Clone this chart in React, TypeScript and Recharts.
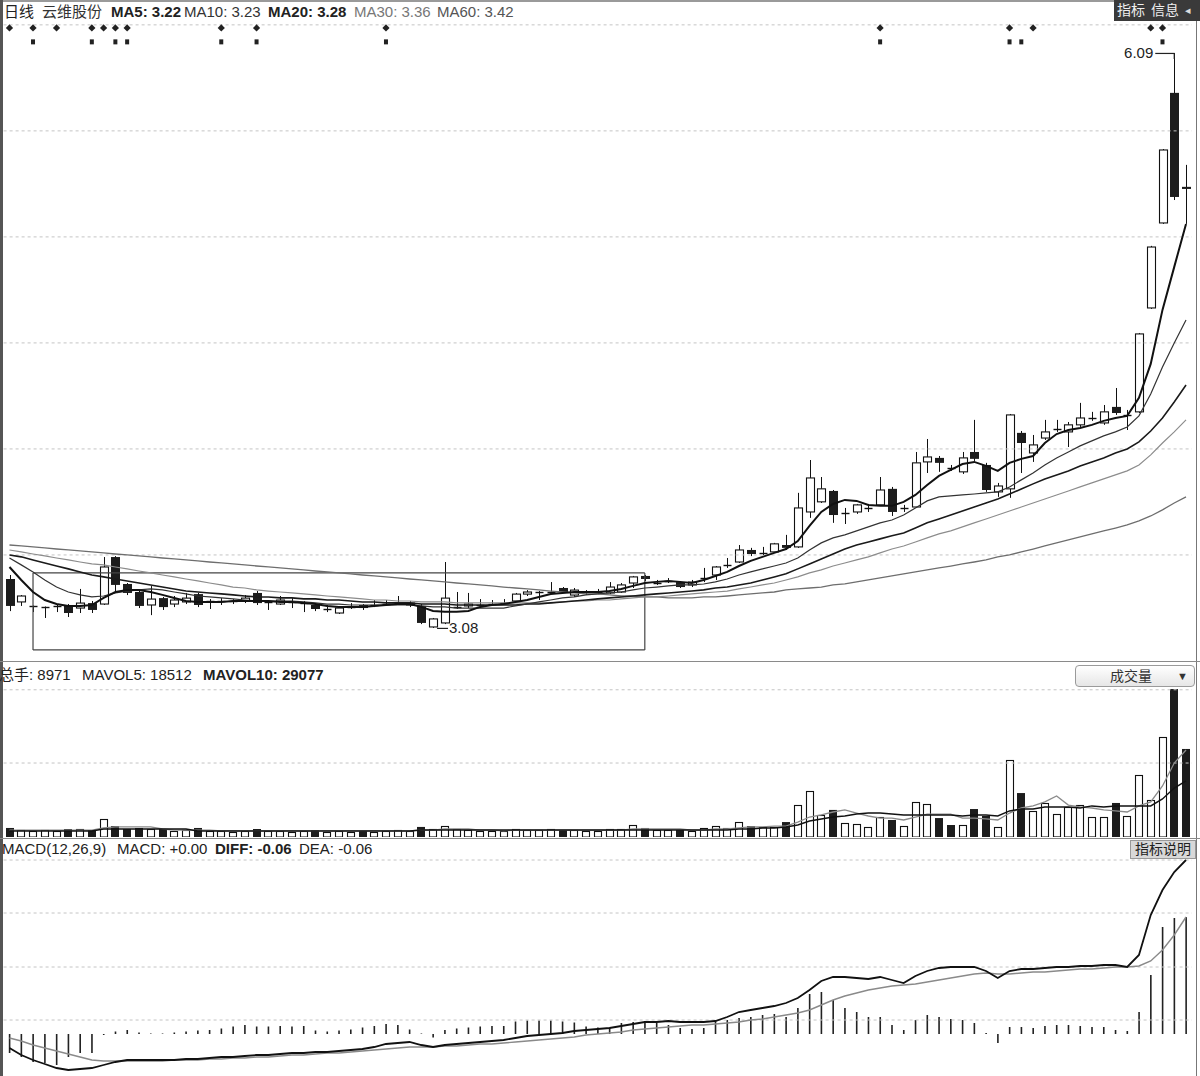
import React from 'react';
import { ComposedChart, Bar, Line, XAxis, YAxis, ReferenceLine, ReferenceDot } from 'recharts';

// daily candles (price units)
const openP = [
  3.336, 3.216, 3.192, 3.187, 3.193, 3.195, 3.184, 3.210, 3.205, 3.451,
  3.310, 3.268, 3.200, 3.236, 3.205, 3.216, 3.257, 3.216, 3.216, 3.219,
  3.221, 3.263, 3.213, 3.205, 3.214, 3.208, 3.200, 3.179, 3.158, 3.189,
  3.200, 3.195, 3.205, 3.210, 3.200, 3.195, 3.085, 3.106, 3.189, 3.195,
  3.200, 3.205, 3.210, 3.221, 3.257, 3.266, 3.268, 3.289, 3.252, 3.263,
  3.268, 3.263, 3.268, 3.315, 3.352, 3.315, 3.325, 3.320, 3.305, 3.338,
  3.357, 3.407, 3.425, 3.488, 3.471, 3.478, 3.514, 3.504, 3.687, 3.740,
  3.797, 3.680, 3.687, 3.706, 3.724, 3.808, 3.706, 3.713, 3.949, 3.970,
  3.918, 3.897, 4.001, 3.933, 3.792, 3.808, 4.101, 3.996, 4.074, 4.120,
  4.106, 4.143, 4.177, 4.153, 4.237, 4.190, 4.211, 4.755, 5.200, 5.881,
  5.389,
];
const closeP = [
  3.195, 3.247, 3.195, 3.189, 3.195, 3.158, 3.210, 3.174, 3.399, 3.305,
  3.263, 3.195, 3.231, 3.189, 3.226, 3.236, 3.200, 3.221, 3.221, 3.221,
  3.236, 3.210, 3.216, 3.226, 3.216, 3.210, 3.179, 3.184, 3.184, 3.195,
  3.184, 3.200, 3.210, 3.216, 3.210, 3.106, 3.127, 3.236, 3.195, 3.205,
  3.205, 3.210, 3.216, 3.257, 3.268, 3.268, 3.273, 3.268, 3.278, 3.268,
  3.273, 3.294, 3.305, 3.347, 3.336, 3.320, 3.331, 3.294, 3.320, 3.341,
  3.399, 3.409, 3.488, 3.467, 3.473, 3.520, 3.499, 3.708, 3.865, 3.808,
  3.671, 3.682, 3.724, 3.708, 3.802, 3.687, 3.708, 3.944, 3.975, 3.944,
  3.916, 3.970, 3.965, 3.802, 3.823, 4.195, 4.048, 4.038, 4.106, 4.122,
  4.143, 4.179, 4.179, 4.211, 4.205, 4.197, 4.619, 5.074, 5.582, 5.336,
  5.378,
];
const highP = [
  3.357, 3.252, 3.197, 3.192, 3.200, 3.205, 3.284, 3.221, 3.451, 3.456,
  3.315, 3.278, 3.299, 3.242, 3.247, 3.263, 3.263, 3.231, 3.236, 3.231,
  3.252, 3.273, 3.226, 3.247, 3.236, 3.221, 3.210, 3.200, 3.189, 3.210,
  3.205, 3.226, 3.226, 3.247, 3.221, 3.205, 3.132, 3.425, 3.268, 3.263,
  3.231, 3.226, 3.231, 3.263, 3.278, 3.273, 3.320, 3.294, 3.289, 3.278,
  3.284, 3.320, 3.315, 3.352, 3.357, 3.331, 3.341, 3.325, 3.331, 3.394,
  3.404, 3.446, 3.514, 3.499, 3.504, 3.525, 3.567, 3.787, 3.959, 3.870,
  3.802, 3.708, 3.729, 3.729, 3.870, 3.818, 3.724, 4.001, 4.069, 3.980,
  3.933, 4.001, 4.169, 3.944, 3.839, 4.200, 4.111, 4.090, 4.169, 4.169,
  4.158, 4.258, 4.211, 4.247, 4.336, 4.221, 4.624, 5.080, 5.587, 6.090,
  5.504,
];
const lowP = [
  3.168, 3.195, 3.163, 3.132, 3.163, 3.137, 3.158, 3.158, 3.200, 3.263,
  3.252, 3.184, 3.147, 3.174, 3.189, 3.205, 3.189, 3.179, 3.200, 3.205,
  3.210, 3.200, 3.174, 3.200, 3.184, 3.163, 3.168, 3.163, 3.153, 3.179,
  3.174, 3.189, 3.195, 3.200, 3.189, 3.100, 3.080, 3.100, 3.179, 3.184,
  3.189, 3.195, 3.205, 3.216, 3.247, 3.226, 3.257, 3.263, 3.242, 3.252,
  3.257, 3.257, 3.263, 3.289, 3.325, 3.305, 3.315, 3.289, 3.294, 3.320,
  3.331, 3.394, 3.420, 3.456, 3.462, 3.473, 3.488, 3.499, 3.656, 3.734,
  3.630, 3.624, 3.677, 3.687, 3.719, 3.666, 3.687, 3.708, 3.891, 3.897,
  3.902, 3.886, 3.954, 3.792, 3.766, 3.761, 3.891, 3.949, 4.064, 4.106,
  4.027, 4.132, 4.164, 4.143, 4.195, 4.116, 4.205, 4.750, 5.195, 5.320,
  5.195,
];

const ma5 = [
  3.399, 3.331, 3.268, 3.226, 3.205, 3.195, 3.195, 3.200, 3.237, 3.268,
  3.279, 3.279, 3.268, 3.253, 3.237, 3.221, 3.216, 3.216, 3.216, 3.221,
  3.221, 3.221, 3.221, 3.216, 3.216, 3.211, 3.205, 3.195, 3.190, 3.190,
  3.190, 3.195, 3.200, 3.205, 3.205, 3.190, 3.169, 3.164, 3.164, 3.169,
  3.190, 3.200, 3.205, 3.216, 3.226, 3.242, 3.258, 3.263, 3.268, 3.268,
  3.268, 3.273, 3.284, 3.300, 3.315, 3.321, 3.326, 3.321, 3.315, 3.331,
  3.352, 3.373, 3.404, 3.431, 3.452, 3.473, 3.493, 3.535, 3.614, 3.687,
  3.729, 3.750, 3.745, 3.724, 3.719, 3.719, 3.740, 3.776, 3.828, 3.876,
  3.907, 3.938, 3.949, 3.928, 3.902, 3.944, 3.965, 3.980, 4.048, 4.095,
  4.116, 4.127, 4.143, 4.164, 4.179, 4.190, 4.284, 4.462, 4.745, 4.970,
  5.195,
];
const ma10 = [
  3.446, 3.410, 3.373, 3.331, 3.294, 3.268, 3.253, 3.242, 3.247, 3.263,
  3.273, 3.279, 3.284, 3.279, 3.268, 3.258, 3.247, 3.242, 3.237, 3.232,
  3.226, 3.221, 3.221, 3.221, 3.221, 3.216, 3.211, 3.205, 3.205, 3.200,
  3.200, 3.200, 3.200, 3.200, 3.200, 3.195, 3.190, 3.190, 3.184, 3.184,
  3.184, 3.184, 3.184, 3.195, 3.205, 3.216, 3.226, 3.237, 3.242, 3.253,
  3.258, 3.263, 3.268, 3.279, 3.289, 3.294, 3.300, 3.305, 3.305, 3.310,
  3.321, 3.336, 3.357, 3.373, 3.389, 3.404, 3.420, 3.446, 3.488, 3.525,
  3.551, 3.567, 3.588, 3.609, 3.630, 3.645, 3.671, 3.708, 3.745, 3.766,
  3.771, 3.776, 3.781, 3.787, 3.792, 3.818, 3.855, 3.891, 3.933, 3.970,
  4.001, 4.033, 4.059, 4.085, 4.106, 4.132, 4.190, 4.305, 4.446, 4.572,
  4.692,
];
const ma20 = [
  3.462, 3.452, 3.436, 3.420, 3.404, 3.389, 3.373, 3.357, 3.347, 3.336,
  3.326, 3.315, 3.305, 3.294, 3.284, 3.273, 3.268, 3.263, 3.258, 3.253,
  3.247, 3.242, 3.242, 3.237, 3.237, 3.232, 3.232, 3.226, 3.226, 3.221,
  3.216, 3.216, 3.211, 3.211, 3.211, 3.205, 3.205, 3.205, 3.200, 3.200,
  3.200, 3.200, 3.200, 3.200, 3.205, 3.205, 3.211, 3.216, 3.221, 3.226,
  3.232, 3.237, 3.242, 3.247, 3.253, 3.258, 3.263, 3.268, 3.273, 3.279,
  3.289, 3.294, 3.305, 3.315, 3.331, 3.347, 3.363, 3.389, 3.415, 3.441,
  3.467, 3.493, 3.514, 3.530, 3.546, 3.562, 3.577, 3.603, 3.630, 3.650,
  3.671, 3.692, 3.713, 3.734, 3.755, 3.781, 3.807, 3.834, 3.860, 3.881,
  3.902, 3.928, 3.949, 3.970, 3.996, 4.017, 4.054, 4.111, 4.179, 4.263,
  4.352,
];
const ma30 = [
  3.488, 3.478, 3.467, 3.457, 3.446, 3.436, 3.425, 3.415, 3.410, 3.399,
  3.389, 3.378, 3.368, 3.357, 3.347, 3.336, 3.326, 3.315, 3.305, 3.294,
  3.289, 3.279, 3.273, 3.268, 3.263, 3.258, 3.253, 3.247, 3.242, 3.237,
  3.232, 3.226, 3.226, 3.221, 3.221, 3.216, 3.216, 3.216, 3.211, 3.211,
  3.211, 3.211, 3.211, 3.211, 3.211, 3.211, 3.211, 3.216, 3.221, 3.221,
  3.226, 3.226, 3.232, 3.237, 3.242, 3.242, 3.247, 3.253, 3.258, 3.263,
  3.268, 3.273, 3.284, 3.294, 3.305, 3.315, 3.331, 3.347, 3.368, 3.384,
  3.404, 3.420, 3.436, 3.452, 3.473, 3.493, 3.509, 3.530, 3.551, 3.572,
  3.588, 3.609, 3.630, 3.650, 3.671, 3.692, 3.713, 3.734, 3.755, 3.776,
  3.797, 3.818, 3.839, 3.860, 3.881, 3.902, 3.933, 3.986, 4.048, 4.106,
  4.169,
];
const ma60 = [
  3.514, 3.509, 3.504, 3.499, 3.493, 3.488, 3.483, 3.478, 3.473, 3.467,
  3.462, 3.457, 3.452, 3.446, 3.441, 3.436, 3.431, 3.425, 3.420, 3.415,
  3.410, 3.404, 3.399, 3.394, 3.389, 3.384, 3.378, 3.373, 3.368, 3.363,
  3.357, 3.352, 3.347, 3.342, 3.336, 3.331, 3.326, 3.321, 3.315, 3.310,
  3.305, 3.300, 3.294, 3.289, 3.284, 3.279, 3.273, 3.268, 3.263, 3.258,
  3.258, 3.253, 3.247, 3.247, 3.242, 3.242, 3.237, 3.237, 3.237, 3.242,
  3.242, 3.247, 3.253, 3.258, 3.263, 3.268, 3.279, 3.284, 3.289, 3.294,
  3.305, 3.310, 3.321, 3.331, 3.342, 3.352, 3.363, 3.373, 3.384, 3.394,
  3.404, 3.415, 3.425, 3.436, 3.452, 3.462, 3.478, 3.493, 3.509, 3.525,
  3.541, 3.556, 3.572, 3.588, 3.603, 3.619, 3.640, 3.666, 3.698, 3.734,
  3.766,
];

// volume (lots) and its averages
const volume = [
  6100, 4700, 4100, 4700, 4100, 5400, 5400, 4700, 12200, 7400,
  5400, 6100, 5400, 5400, 4100, 4700, 6100, 4100, 4100, 3400,
  4100, 5400, 4100, 4100, 3400, 4100, 4700, 3400, 4100, 3400,
  4100, 3400, 4100, 4700, 4100, 6800, 5400, 7400, 5400, 4700,
  4100, 4100, 4100, 5400, 4700, 4700, 5400, 4700, 4700, 4100,
  4100, 5400, 5400, 8100, 6100, 4700, 4700, 4700, 4100, 6100,
  7400, 6100, 10100, 7400, 6800, 6800, 10100, 21600, 31100, 14900,
  18300, 9500, 8800, 6800, 13500, 11500, 7400, 23700, 22300, 12800,
  8100, 8100, 18900, 14200, 6800, 52100, 29700, 17600, 23000, 15500,
  20300, 21600, 13500, 13500, 23000, 14200, 41900, 25000, 67600, 100000,
  59500,
];
const mavol5 = [
  4700, 4700, 4700, 4700, 4700, 4700, 4700, 4700, 6100, 6800,
  6800, 6800, 6800, 5400, 4700, 4700, 4700, 4700, 4100, 4100,
  4100, 4100, 4100, 4100, 4100, 4100, 4100, 4100, 4100, 4100,
  4100, 4100, 4100, 4100, 4100, 4700, 4700, 5400, 5400, 5400,
  4700, 4700, 4100, 4700, 4700, 4700, 4700, 4700, 4700, 4700,
  4700, 4700, 4700, 5400, 5400, 5400, 5400, 5400, 4700, 4700,
  5400, 5400, 6100, 6800, 6800, 7400, 7400, 10100, 13500, 14900,
  16900, 18300, 16200, 14200, 12800, 12800, 11500, 13500, 15500, 15500,
  15500, 12800, 12800, 12200, 11500, 16200, 19600, 21000, 23700, 27700,
  21600, 20300, 19600, 18300, 17600, 16900, 21000, 23700, 34500, 50000,
  58800,
];
const mavol10 = [
  4100, 4100, 4100, 4100, 4100, 4100, 4100, 4100, 5400, 5400,
  5400, 5400, 5400, 5400, 5400, 5400, 4100, 4100, 4100, 4100,
  4100, 4100, 4100, 4100, 4100, 4100, 4100, 4100, 4100, 4100,
  4100, 4100, 4100, 4100, 4100, 4700, 4700, 4700, 4700, 4700,
  4700, 4700, 4700, 4700, 4700, 4700, 4700, 4700, 4700, 4700,
  4700, 4700, 4700, 4700, 4700, 4700, 4700, 4700, 4700, 4700,
  4700, 4700, 5400, 5400, 6100, 6100, 6800, 8100, 10800, 12200,
  13500, 14200, 15500, 16200, 16200, 15500, 14900, 14900, 14900, 14900,
  14900, 14200, 14900, 14900, 14200, 17600, 18900, 18900, 20300, 20300,
  20300, 19600, 21000, 20300, 21000, 21000, 21000, 21000, 25700, 33100,
  37900,
];

// MACD(12,26,9)
const diff = [
  -0.028, -0.042, -0.052, -0.060, -0.068, -0.072, -0.070, -0.068, -0.062, -0.056,
  -0.052, -0.052, -0.052, -0.052, -0.052, -0.050, -0.050, -0.048, -0.046, -0.046,
  -0.044, -0.042, -0.042, -0.040, -0.038, -0.038, -0.036, -0.036, -0.034, -0.032,
  -0.030, -0.026, -0.020, -0.018, -0.016, -0.022, -0.026, -0.022, -0.020, -0.018,
  -0.016, -0.014, -0.012, -0.008, -0.004, -0.002, 0.000, 0.002, 0.006, 0.008,
  0.010, 0.012, 0.016, 0.020, 0.024, 0.024, 0.026, 0.024, 0.024, 0.024,
  0.026, 0.034, 0.044, 0.048, 0.052, 0.056, 0.062, 0.072, 0.088, 0.106,
  0.114, 0.114, 0.112, 0.110, 0.114, 0.108, 0.102, 0.116, 0.126, 0.132,
  0.134, 0.134, 0.134, 0.126, 0.112, 0.126, 0.130, 0.130, 0.132, 0.134,
  0.134, 0.136, 0.136, 0.138, 0.138, 0.134, 0.158, 0.238, 0.288, 0.324,
  0.348,
];
const dea = [
  -0.008, -0.014, -0.022, -0.028, -0.034, -0.040, -0.046, -0.052, -0.054, -0.054,
  -0.054, -0.054, -0.054, -0.054, -0.052, -0.052, -0.052, -0.050, -0.050, -0.048,
  -0.048, -0.046, -0.046, -0.044, -0.042, -0.042, -0.040, -0.038, -0.038, -0.036,
  -0.034, -0.032, -0.030, -0.028, -0.026, -0.026, -0.026, -0.024, -0.024, -0.022,
  -0.020, -0.020, -0.018, -0.016, -0.014, -0.012, -0.010, -0.008, -0.006, -0.002,
  0.000, 0.002, 0.004, 0.008, 0.010, 0.012, 0.014, 0.016, 0.018, 0.018,
  0.020, 0.022, 0.024, 0.028, 0.030, 0.034, 0.038, 0.042, 0.048, 0.058,
  0.068, 0.076, 0.082, 0.088, 0.092, 0.096, 0.098, 0.100, 0.104, 0.108,
  0.112, 0.116, 0.120, 0.122, 0.120, 0.120, 0.122, 0.124, 0.124, 0.126,
  0.128, 0.130, 0.130, 0.132, 0.134, 0.134, 0.136, 0.146, 0.168, 0.198,
  0.234,
];
const macdHist = [
  -0.038, -0.046, -0.056, -0.058, -0.062, -0.046, -0.038, -0.038, -0.002, 0.005,
  0.008, 0.003, 0.001, 0.001, 0.003, 0.005, 0.007, 0.008, 0.011, 0.015,
  0.018, 0.015, 0.015, 0.016, 0.015, 0.016, 0.007, 0.005, 0.007, 0.009,
  0.013, 0.016, 0.020, 0.018, 0.009, 0.001, -0.007, 0.008, 0.011, 0.013,
  0.015, 0.016, 0.016, 0.025, 0.027, 0.027, 0.027, 0.025, 0.023, 0.015,
  0.013, 0.012, 0.022, 0.024, 0.026, 0.022, 0.018, 0.012, 0.010, 0.012,
  0.028, 0.028, 0.032, 0.034, 0.038, 0.040, 0.034, 0.052, 0.080, 0.084,
  0.068, 0.052, 0.044, 0.034, 0.034, 0.018, 0.008, 0.028, 0.038, 0.034,
  0.030, 0.028, 0.022, 0.002, -0.018, 0.014, 0.014, 0.012, 0.016, 0.018,
  0.018, 0.016, 0.014, 0.014, 0.008, 0.006, 0.044, 0.118, 0.214, 0.232,
  0.234,
];

// signal marks along the top edge (candle indices)
const diamondIdx = [0, 2, 4, 7, 8, 9, 10, 18, 21, 32, 74, 85, 87, 97, 98];
const squareIdx = [2, 7, 9, 10, 18, 21, 32, 74, 85, 86, 98];
const diamondLevel = 6.221;
const squareLevel = 6.148;

const priceGrid = [6.237, 5.682, 5.127, 4.572, 4.017, 3.462];
const volGrid = [50000, 99500];
const macdGrid = [0.348, 0.242, 0.134, 0.028];
const box = { from: 2, to: 54, top: 3.368, bottom: 2.965 };

const FONT = '"Liberation Sans", Arial, "Noto Sans CJK SC", sans-serif';
const MARGIN_L = 3.6;
const MARGIN_R = 8.1;

const priceRows = closeP.map((c, i) => ({
  idx: i,
  open: openP[i],
  high: highP[i],
  low: lowP[i],
  close: c,
  ma5: ma5[i],
  ma10: ma10[i],
  ma20: ma20[i],
  ma30: ma30[i],
  ma60: ma60[i],
  sigTop: diamondIdx.includes(i) ? diamondLevel : null,
  sigBot: squareIdx.includes(i) ? squareLevel : null,
}));

const volRows = volume.map((v, i) => ({
  idx: i,
  vol: v,
  mavol5: mavol5[i],
  mavol10: mavol10[i],
  up: closeP[i] >= openP[i],
}));

const macdRows = diff.map((d, i) => ({ idx: i, diff: d, dea: dea[i], macd: macdHist[i] }));

const hiVal = Math.max(...highP);
const hiIdx = highP.indexOf(hiVal);
const loVal = Math.min(...lowP);
const loIdx = lowP.indexOf(loVal);

function CandleShape(props: any) {
  const { x, y, width, height, payload } = props;
  if (!payload || !Number.isFinite(y) || !Number.isFinite(height)) return <g />;
  const top = Math.min(y, y + height);
  const bottom = Math.max(y, y + height);
  const span = payload.high - payload.low;
  const k = span > 0 ? (bottom - top) / span : 0;
  const toY = (v: number) => top + (payload.high - v) * k;
  const cx = Math.round(x + width / 2) + 0.5;
  const up = payload.close >= payload.open;
  const bTop = toY(Math.max(payload.open, payload.close));
  const bBot = toY(Math.min(payload.open, payload.close));
  const bh = bBot - bTop;
  const half = 4;
  if (bh < 1.6) {
    const yy = Math.round((bTop + bBot) / 2) + 0.5;
    return (
      <g>
        <line x1={cx} x2={cx} y1={top} y2={bottom} stroke="#111" strokeWidth={1} />
        <line x1={cx - half} x2={cx + half} y1={yy} y2={yy} stroke="#111" strokeWidth={1.4} />
      </g>
    );
  }
  if (up) {
    return (
      <g>
        <line x1={cx} x2={cx} y1={top} y2={bTop} stroke="#111" strokeWidth={1} />
        <line x1={cx} x2={cx} y1={bBot} y2={bottom} stroke="#111" strokeWidth={1} />
        <rect x={cx - half} y={bTop} width={half * 2} height={bh} fill="#fff" stroke="#111" strokeWidth={1.1} />
      </g>
    );
  }
  return (
    <g>
      <line x1={cx} x2={cx} y1={top} y2={bottom} stroke="#111" strokeWidth={1} />
      <rect x={cx - half - 0.5} y={bTop} width={half * 2 + 1} height={bh} fill="#1c1c1c" />
    </g>
  );
}

function VolShape(props: any) {
  const { x, y, width, height, payload } = props;
  if (!payload || !Number.isFinite(y) || !Number.isFinite(height)) return <g />;
  const top = Math.min(y, y + height);
  const h = Math.abs(height);
  const left = Math.round(x) + 0.5;
  if (payload.up) {
    return <rect x={left} y={Math.round(top) + 0.5} width={width - 1} height={Math.max(0, h - 0.5)} fill="#fff" stroke="#111" strokeWidth={1.1} />;
  }
  return <rect x={left - 0.5} y={top} width={width} height={h} fill="#1c1c1c" />;
}

function MacdShape(props: any) {
  const { x, y, width, height } = props;
  if (!Number.isFinite(y) || !Number.isFinite(height)) return <g />;
  const top = Math.min(y, y + height);
  const h = Math.abs(height);
  const cx = x + width / 2;
  return <rect x={cx - 0.8} y={top} width={1.6} height={h} fill="#222" />;
}

const diamondDot = (p: any) => {
  const key = `dm-${p.index}`;
  if (!p.payload || p.payload.sigTop == null || p.cy == null) return <g key={key} />;
  const { cx, cy } = p;
  return <path key={key} d={`M${cx},${cy - 3.6}L${cx + 3.6},${cy}L${cx},${cy + 3.6}L${cx - 3.6},${cy}Z`} fill="#222" />;
};

const squareDot = (p: any) => {
  const key = `sq-${p.index}`;
  if (!p.payload || p.payload.sigBot == null || p.cy == null) return <g key={key} />;
  const { cx, cy } = p;
  return <rect key={key} x={cx - 2} y={cy - 2.5} width={4} height={5} fill="#222" />;
};

const HighMark = (p: any) => (
  <g>
    <line x1={p.cx - 19} x2={p.cx} y1={p.cy + 0.5} y2={p.cy + 0.5} stroke="#222" strokeWidth={1.2} />
    <line x1={p.cx} x2={p.cx} y1={p.cy} y2={p.cy + 6} stroke="#222" strokeWidth={1.2} />
    <text x={p.cx - 21} y={p.cy} dy="0.36em" textAnchor="end" fontSize={15} fontFamily={FONT} fill="#222">
      {hiVal.toFixed(2)}
    </text>
  </g>
);

const LowMark = (p: any) => (
  <g>
    <line x1={p.cx + 4} x2={p.cx + 15} y1={p.cy + 0.5} y2={p.cy + 0.5} stroke="#222" strokeWidth={1.2} />
    <text x={p.cx + 16} y={p.cy} dy="0.36em" textAnchor="start" fontSize={15} fontFamily={FONT} fill="#222">
      {loVal.toFixed(2)}
    </text>
  </g>
);

const gridLine = (v: number) => (
  <ReferenceLine key={`g-${v}`} y={v} stroke="#c4c4c4" strokeDasharray="3 3" strokeWidth={1} />
);

function Txt({ left, top, children, bold, color, size }: any) {
  return (
    <span
      style={{
        position: 'absolute',
        left,
        top,
        fontSize: size || 15,
        fontWeight: bold ? 700 : 400,
        color: color || '#222',
        whiteSpace: 'nowrap',
        lineHeight: '18px',
      }}
    >
      {children}
    </span>
  );
}

export default function App() {
  return (
    <div
      style={{
        position: 'relative',
        width: 1200,
        height: 1076,
        background: '#fff',
        overflow: 'hidden',
        fontFamily: FONT,
      }}
    >
      <style>{'body{margin:0;background:#fff}'}</style>

      <div style={{ position: 'absolute', left: 0, top: 0 }}>
        <ComposedChart width={1200} height={662} data={priceRows} margin={{ top: 22, right: MARGIN_R, bottom: 2, left: MARGIN_L }}>
          <XAxis dataKey="idx" hide />
          <YAxis hide domain={[2.912, 6.252]} allowDataOverflow />
          {priceGrid.map(gridLine)}
          <ReferenceLine segment={[{ x: box.from, y: box.top }, { x: box.to, y: box.top }]} stroke="#444" strokeWidth={1.2} />
          <ReferenceLine segment={[{ x: box.from, y: box.bottom }, { x: box.to, y: box.bottom }]} stroke="#444" strokeWidth={1.2} />
          <ReferenceLine segment={[{ x: box.from, y: box.bottom }, { x: box.from, y: box.top }]} stroke="#444" strokeWidth={1.2} />
          <ReferenceLine segment={[{ x: box.to, y: box.bottom }, { x: box.to, y: box.top }]} stroke="#444" strokeWidth={1.2} />
          <Bar dataKey={(d: any) => [d.low, d.high]} barSize={8} shape={CandleShape} isAnimationActive={false} />
          <Line dataKey="ma60" stroke="#6e6e6e" strokeWidth={1.3} dot={false} activeDot={false} isAnimationActive={false} />
          <Line dataKey="ma30" stroke="#8c8c8c" strokeWidth={1.2} dot={false} activeDot={false} isAnimationActive={false} />
          <Line dataKey="ma20" stroke="#1a1a1a" strokeWidth={1.6} dot={false} activeDot={false} isAnimationActive={false} />
          <Line dataKey="ma10" stroke="#333" strokeWidth={1.2} dot={false} activeDot={false} isAnimationActive={false} />
          <Line dataKey="ma5" stroke="#111" strokeWidth={2} dot={false} activeDot={false} isAnimationActive={false} />
          <Line dataKey="sigTop" stroke="none" dot={diamondDot} activeDot={false} isAnimationActive={false} />
          <Line dataKey="sigBot" stroke="none" dot={squareDot} activeDot={false} isAnimationActive={false} />
          <ReferenceDot x={hiIdx} y={hiVal} r={0} shape={HighMark} />
          <ReferenceDot x={loIdx} y={loVal} r={0} shape={LowMark} />
        </ComposedChart>
      </div>

      <div style={{ position: 'absolute', left: 0, top: 662 }}>
        <ComposedChart width={1200} height={176} data={volRows} margin={{ top: 1, right: MARGIN_R, bottom: 1, left: MARGIN_L }}>
          <XAxis dataKey="idx" hide />
          <YAxis hide domain={[0, 117600]} allowDataOverflow />
          {volGrid.map(gridLine)}
          <Bar dataKey="vol" barSize={8} shape={VolShape} isAnimationActive={false} />
          <Line dataKey="mavol5" stroke="#8a8a8a" strokeWidth={1.3} dot={false} activeDot={false} isAnimationActive={false} />
          <Line dataKey="mavol10" stroke="#111" strokeWidth={1.4} dot={false} activeDot={false} isAnimationActive={false} />
        </ComposedChart>
      </div>

      <div style={{ position: 'absolute', left: 0, top: 838 }}>
        <ComposedChart width={1200} height={238} data={macdRows} margin={{ top: 2, right: MARGIN_R, bottom: 4, left: MARGIN_L }}>
          <XAxis dataKey="idx" hide />
          <YAxis hide domain={[-0.076, 0.388]} allowDataOverflow />
          {macdGrid.map(gridLine)}
          <Bar dataKey="macd" barSize={2} shape={MacdShape} isAnimationActive={false} />
          <Line dataKey="dea" stroke="#8a8a8a" strokeWidth={1.4} dot={false} activeDot={false} isAnimationActive={false} />
          <Line dataKey="diff" stroke="#111" strokeWidth={1.8} dot={false} activeDot={false} isAnimationActive={false} />
        </ComposedChart>
      </div>

      {/* frame */}
      <div style={{ position: 'absolute', left: 0, top: 0, width: 1115, height: 2, background: '#9a9a9a' }} />
      <div style={{ position: 'absolute', left: 0, top: 0, width: 3, height: 1076, background: '#555' }} />
      <div style={{ position: 'absolute', left: 1196, top: 20, width: 1, height: 1056, background: '#777' }} />
      <div style={{ position: 'absolute', left: 0, top: 661, width: 1200, height: 1, background: '#8a8a8a' }} />
      <div style={{ position: 'absolute', left: 0, top: 838, width: 1200, height: 1, background: '#8a8a8a' }} />

      {/* price header */}
      <Txt left={4} top={3}>日线</Txt>
      <Txt left={42} top={3} color="#333">云维股份</Txt>
      <Txt left={111} top={3} bold>MA5: 3.22</Txt>
      <Txt left={184} top={3} color="#333">MA10: 3.23</Txt>
      <Txt left={268} top={3} bold>MA20: 3.28</Txt>
      <Txt left={354} top={3} color="#777">MA30: 3.36</Txt>
      <Txt left={437} top={3} color="#555">MA60: 3.42</Txt>
      <div
        style={{
          position: 'absolute',
          left: 1114,
          top: 0,
          width: 86,
          height: 21,
          background: '#3a3a3a',
          color: '#eee',
          fontSize: 14,
          lineHeight: '21px',
          display: 'flex',
          gap: 6,
          paddingLeft: 3,
          boxSizing: 'border-box',
        }}
      >
        <span>指标</span>
        <span>信息</span>
        <span style={{ fontSize: 11, color: '#ddd' }}>◂</span>
      </div>

      {/* volume header */}
      <Txt left={-1} top={666}>总手: 8971</Txt>
      <Txt left={82} top={666}>MAVOL5: 18512</Txt>
      <Txt left={203} top={666} bold>MAVOL10: 29077</Txt>
      <div
        style={{
          position: 'absolute',
          left: 1075,
          top: 665,
          width: 120,
          height: 22,
          border: '1px solid #9a9a9a',
          borderRadius: 4,
          background: 'linear-gradient(#ffffff, #e6e6e6)',
          boxSizing: 'border-box',
          fontSize: 14,
          lineHeight: '20px',
          color: '#333',
        }}
      >
        <span style={{ position: 'absolute', left: 34 }}>成交量</span>
        <span style={{ position: 'absolute', right: 6, fontSize: 11 }}>▼</span>
      </div>

      {/* MACD header */}
      <Txt left={2} top={840}>MACD(12,26,9)</Txt>
      <Txt left={117} top={840}>MACD: +0.00</Txt>
      <Txt left={215} top={840} bold>DIFF: -0.06</Txt>
      <Txt left={299} top={840}>DEA: -0.06</Txt>
      <div
        style={{
          position: 'absolute',
          left: 1130,
          top: 840,
          width: 66,
          height: 19,
          background: '#d8d8d8',
          border: '1px solid #999',
          boxSizing: 'border-box',
          fontSize: 14,
          lineHeight: '17px',
          textAlign: 'center',
          color: '#222',
        }}
      >
        指标说明
      </div>
    </div>
  );
}
